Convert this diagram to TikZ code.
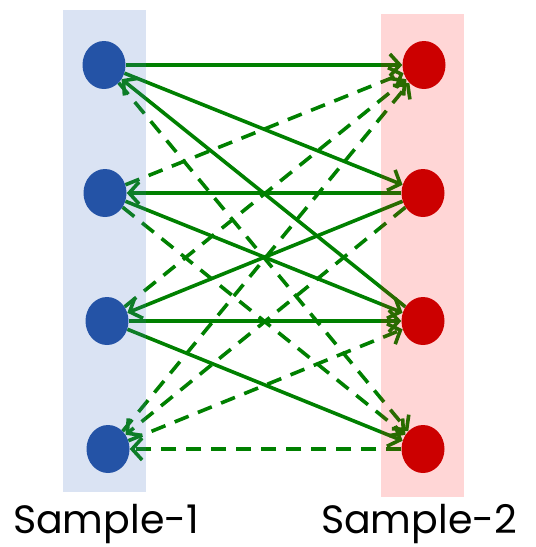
\documentclass[tikz,border=0pt]{standalone}
\usepackage{fontspec}
\setmainfont{Poppins}
\usetikzlibrary{arrows.meta,shapes.geometric}
\pgfdeclarelayer{edges}
\pgfdeclarelayer{tints}
\pgfsetlayers{edges,tints,main}
\definecolor{edgegreen}{RGB}{0,128,0}
\definecolor{leftdot}{RGB}{36,83,166}
\definecolor{rightdot}{RGB}{204,0,0}
\definecolor{lefttint}{RGB}{68,114,196}
\definecolor{righttint}{RGB}{255,0,0}
\begin{document}
\begin{tikzpicture}[x=1pt,y=-1pt,
  dot/.style={ellipse,minimum width=43pt,minimum height=48pt,inner sep=0pt},
  ldot/.style={dot,fill=leftdot},
  rdot/.style={dot,fill=rightdot},
  link/.style={draw=edgegreen,line width=3.6pt,-{Straight Barb[length=10pt,width=22pt]}},
  dlink/.style={link,dash pattern=on 15pt off 10pt},
  label/.style={anchor=base,font=\fontsize{39.5}{44}\selectfont,text=black}]
\useasboundingbox (0,0) rectangle (536,547);
\node[ldot] (L1) at (104,65) {};
\node[ldot] (L2) at (105,193) {};
\node[ldot] (L3) at (107,321) {};
\node[ldot] (L4) at (108,449) {};
\node[rdot] (R1) at (424,65) {};
\node[rdot] (R2) at (423,193) {};
\node[rdot] (R3) at (423,321) {};
\node[rdot] (R4) at (423,449) {};
\node[label] (S1) at (106,533) {Sample-1};
\node[label] (S2) at (419,533) {Sample-2};
\begin{pgfonlayer}{edges}
% solid links
\draw[link] (L1) -- (R1);
\draw[link] (L1) -- (R2);
\draw[link] (R3) -- (L1);
\draw[link] (R2) -- (L2);
\draw[link] (L2) -- (R3);
\draw[link] (R2) -- (L3);
\draw[link] (L3) -- (R3);
\draw[link] (L3) -- (R4);
% dashed links
\draw[dlink] (L1) -- (R4);
\draw[dlink] (L2) -- (R1);
\draw[dlink] (L2) -- (R4);
\draw[dlink] (L3) -- (R1);
\draw[dlink] (L4) -- (R1);
\draw[dlink] (R2) -- (L4);
\draw[dlink] (L4) -- (R3);
\draw[dlink] (R4) -- (L4);
\end{pgfonlayer}
\begin{pgfonlayer}{tints}
\fill[lefttint,opacity=0.2] (63,10) rectangle (146,492);
\fill[righttint,opacity=0.16] (381,14) rectangle (464,497);
\end{pgfonlayer}
\end{tikzpicture}
\end{document}
